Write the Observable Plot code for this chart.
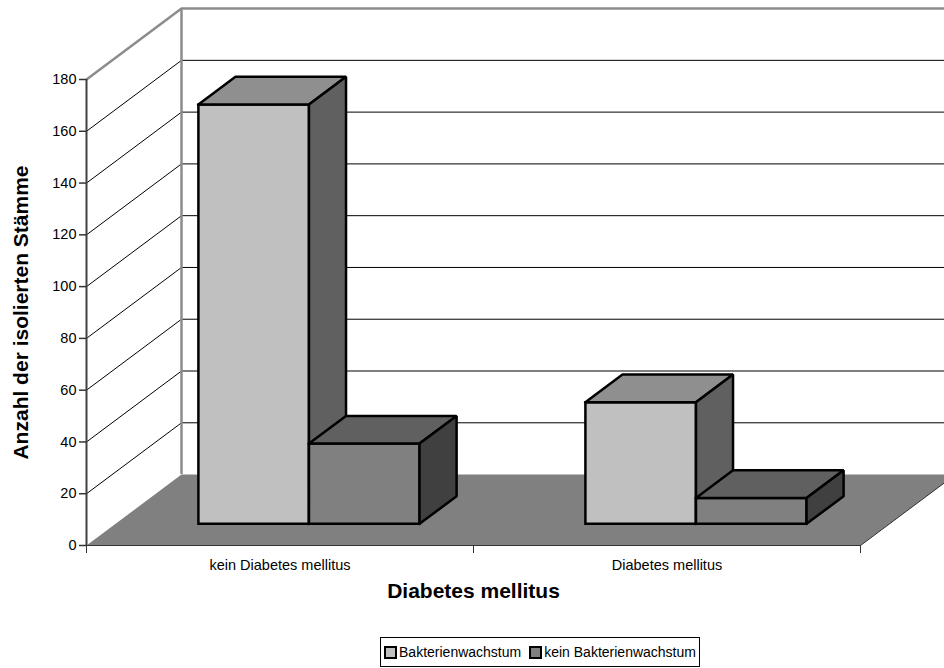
<!DOCTYPE html>
<html>
<head>
<meta charset="utf-8">
<script src="https://cdn.jsdelivr.net/npm/d3@7"></script>
<script src="https://cdn.jsdelivr.net/npm/@observablehq/plot@0.6"></script>
<style>
  html, body { margin: 0; padding: 0; background: #fff; }
  body { width: 944px; height: 668px; position: relative; overflow: hidden;
         font-family: "Liberation Sans", Arial, sans-serif; }
  #chart svg { display: block; }
  #legend { position: absolute; left: 380px; top: 637px; width: 320px; height: 30px;
            border: 1px solid #000; box-sizing: border-box; display: flex;
            align-items: center; justify-content: center; gap: 8px; font-size: 14px; color: #000; }
  #legend .item { display: flex; align-items: center; gap: 2px; }
  #legend .sw { width: 9px; height: 9px; border: 2px solid #000; }
</style>
</head>
<body>
<div id="chart"></div>
<div id="legend"></div>
<script>
// Chart data
const categories = ["kein Diabetes mellitus", "Diabetes mellitus"];
const seriesNames = ["Bakterienwachstum", "kein Bakterienwachstum"];
const bakterienwachstum = [162, 47];
const keinBakterienwachstum = [31, 10];
const yTicks = [0, 20, 40, 60, 80, 100, 120, 140, 160, 180];
const xTitle = "Diabetes mellitus";
const yTitle = "Anzahl der isolierten Stämme";

// Face colours per series: front, top, side
const faceColors = [
  {front: "#c0c0c0", top: "#8f8f8f", side: "#606060"},
  {front: "#808080", top: "#606060", side: "#404040"}
];

// Oblique 3D projection: a point at depth d (0 = front plane, 1 = back wall)
// is shifted right and up in data units.
const DEPTH_X = 0.2455;   // category units per full depth
const DEPTH_Y = 27.4;     // value units per full depth
const P = (x, y, d) => ({x: x + d * DEPTH_X, y: y + d * DEPTH_Y});

const nCat = categories.length;
const yMax = 180;
const barW = 1 / 3.5;            // two series, 150% gap width
const d0 = 0.305, d1 = 0.695;    // bar front / back depth
const values = [bakterienwachstum, keinBakterienwachstum];

const closed = pts => [...pts, pts[0]];

// Walls and floor
const floorPoly = closed([P(0, 0, 0), P(nCat, 0, 0), P(nCat, 0, 1), P(0, 0, 1)]);
const inner = yTicks.filter(v => v > 0 && v < yMax);

const marks = [
  // back wall grid lines
  Plot.ruleY(inner, {y: v => v + DEPTH_Y, x1: DEPTH_X, x2: nCat + DEPTH_X, stroke: "#000", strokeWidth: 1}),
  // left wall grid lines
  Plot.link(inner, {x1: 0, y1: v => v, x2: DEPTH_X, y2: v => v + DEPTH_Y, stroke: "#000", strokeWidth: 1}),
  // wall borders
  Plot.ruleY([yMax], {y: v => v + DEPTH_Y, x1: DEPTH_X, x2: nCat + DEPTH_X, stroke: "#8c8c8c", strokeWidth: 2.5}),
  Plot.link([yMax], {x1: 0, y1: v => v, x2: DEPTH_X, y2: v => v + DEPTH_Y, stroke: "#8c8c8c", strokeWidth: 2.5}),
  Plot.ruleX([DEPTH_X], {y1: DEPTH_Y, y2: yMax + DEPTH_Y, stroke: "#8c8c8c", strokeWidth: 2.5}),
  // floor
  Plot.line(floorPoly, {x: "x", y: "y", fill: "#808080", stroke: "none"}),
  Plot.link([nCat], {x1: v => v, y1: 0, x2: v => v + DEPTH_X, y2: DEPTH_Y, stroke: "#333", strokeWidth: 1}),
  Plot.ruleY([0], {x1: 0, x2: nCat, stroke: "#333", strokeWidth: 1.2}),
  // front value axis line
  Plot.ruleX([0], {y1: 0, y2: yMax, stroke: "#404040", strokeWidth: 2})
];

// Bars: drawn category by category, series by series, so neighbours overlap correctly
categories.forEach((cat, c) => {
  values.forEach((vals, s) => {
    const v = vals[c];
    const x0 = c + 0.5 + (s - 1) * barW, x1 = x0 + barW;
    const faces = [
      [closed([P(x0, 0, d0), P(x1, 0, d0), P(x1, v, d0), P(x0, v, d0)]), faceColors[s].front],
      [closed([P(x0, v, d0), P(x1, v, d0), P(x1, v, d1), P(x0, v, d1)]), faceColors[s].top],
      [closed([P(x1, 0, d0), P(x1, 0, d1), P(x1, v, d1), P(x1, v, d0)]), faceColors[s].side]
    ];
    for (const [poly, fill] of faces) {
      marks.push(Plot.line(poly, {
        x: "x", y: "y", fill, stroke: "#000", strokeWidth: 2.5,
        strokeLinejoin: "miter", strokeLinecap: "square"
      }));
    }
  });
});

// Axes, labels and titles
marks.push(
  Plot.axisY(yTicks, {anchor: "left", tickSize: 7, tickPadding: 3, fontSize: 14.5,
    stroke: "#333", strokeWidth: 1.5, fill: "#000", label: null}),
  Plot.axisX(d3.range(nCat + 1), {anchor: "bottom", tickSize: 8, tickFormat: () => "",
    stroke: "#333", label: null}),
  Plot.text(categories, {x: (d, i) => i + 0.5, y: 0, dy: 20, fontSize: 14.5, fill: "#000"}),
  Plot.text([xTitle], {frameAnchor: "bottom", dy: 52, fontSize: 21, fontWeight: "bold", fill: "#000"}),
  Plot.text([yTitle], {frameAnchor: "left", dx: -65, rotate: -90, textAnchor: "middle",
    fontSize: 21, fontWeight: "bold", fill: "#000"})
);

const chart = Plot.plot({
  width: 944,
  height: 625,
  marginLeft: 86,
  marginRight: 84,
  marginTop: 79,
  marginBottom: 80,
  x: {domain: [0, nCat], axis: null},
  y: {domain: [0, yMax], axis: null},
  style: {fontFamily: "'Liberation Sans', Arial, sans-serif", background: "#fff", overflow: "hidden"},
  marks
});
document.getElementById("chart").appendChild(chart);

// Legend
const legend = d3.select("#legend");
seriesNames.forEach((name, s) => {
  const item = legend.append("div").attr("class", "item");
  item.append("div").attr("class", "sw").style("background", faceColors[s].front);
  item.append("span").text(name);
});
</script>
</body>
</html>
